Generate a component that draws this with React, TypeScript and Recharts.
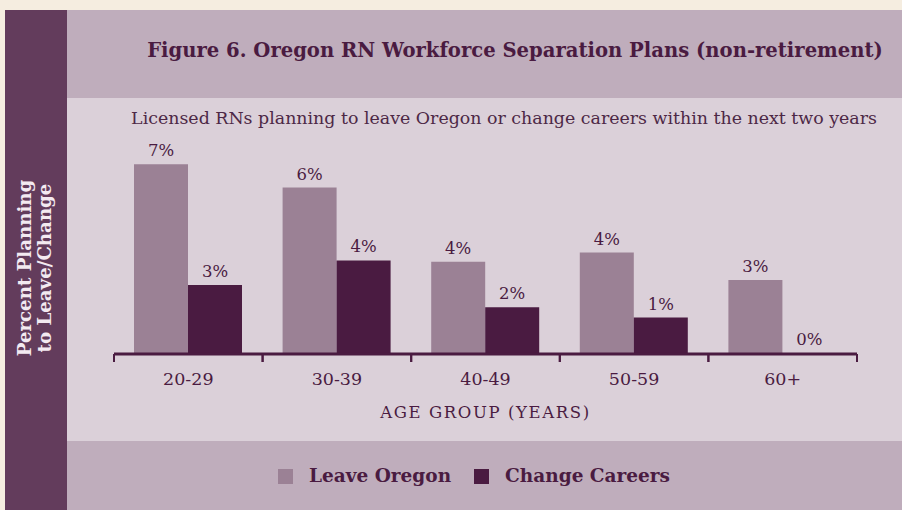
import React from 'react';
import { BarChart, Bar, XAxis, YAxis, LabelList } from 'recharts';

const categories = ['20-29', '30-39', '40-49', '50-59', '60+'];
const leaveOregon = [7.3, 6.4, 3.55, 3.9, 2.85];
const changeCareers = [2.65, 3.6, 1.8, 1.4, 0];
const seriesNames = ['Leave Oregon', 'Change Careers'];
const seriesColors = ['#9b8195', '#4a1b41'];

const data = categories.map((c, i) => ({
  group: c,
  leave: leaveOregon[i],
  change: changeCareers[i],
}));

const FONT = '"DejaVu Serif", serif';
const DARK = '#4a1b41';
const TICK_MARGIN = 19;
const TICK_LEN = 8;

const fmt = (v: number) => `${Math.round(v)}%`;

const CategoryTick = (props: any) => {
  const { x, y, payload, width, visibleTicksCount } = props;
  const half = payload && payload.offset ? payload.offset : width / visibleTicksCount / 2;
  const axisY = y - TICK_MARGIN;
  return (
    <g>
      <line x1={x - half} x2={x - half} y1={axisY} y2={axisY + TICK_LEN} stroke={DARK} strokeWidth={2} />
      <line x1={x + half} x2={x + half} y1={axisY} y2={axisY + TICK_LEN} stroke={DARK} strokeWidth={2} />
      <text x={x} y={y} dy="0.71em" textAnchor="middle" fill={DARK} fontSize={17.5} fontFamily={FONT}>
        {payload.value}
      </text>
    </g>
  );
};

export default function App() {
  return (
    <div
      style={{
        position: 'absolute',
        left: 0,
        top: 0,
        width: 902,
        height: 510,
        background: '#f5ede0',
        fontFamily: FONT,
        overflow: 'hidden',
      }}
    >
      <div style={{ position: 'absolute', left: 5, top: 10, width: 62, height: 500, background: '#633c5c' }} />
      <div style={{ position: 'absolute', left: 67, top: 10, width: 835, height: 88, background: '#bfadbc' }} />
      <div style={{ position: 'absolute', left: 67, top: 98, width: 835, height: 343, background: '#dbd0d9' }} />
      <div style={{ position: 'absolute', left: 67, top: 441, width: 835, height: 69, background: '#bfadbc' }} />

      <svg width={902} height={510} style={{ position: 'absolute', left: 0, top: 0 }}>
        <text x={515} y={57} textAnchor="middle" fontFamily={FONT} fontWeight="bold" fontSize={19.6} fill={DARK}>
          Figure 6. Oregon RN Workforce Separation Plans (non-retirement)
        </text>
        <text x={504} y={124} textAnchor="middle" fontFamily={FONT} fontSize={17.4} fill="#4d2846">
          Licensed RNs planning to leave Oregon or change careers within the next two years
        </text>
        <g transform="translate(36,268) rotate(-90)">
          <text x={0} y={-5} textAnchor="middle" fontFamily={FONT} fontWeight="bold" fontSize={18.2} fill="#f3eaf1">
            Percent Planning
          </text>
          <text x={0} y={15} textAnchor="middle" fontFamily={FONT} fontWeight="bold" fontSize={18.2} fill="#f3eaf1">
            to Leave/Change
          </text>
        </g>
      </svg>

      <div style={{ position: 'absolute', left: 0, top: 0 }}>
        <BarChart
          width={902}
          height={510}
          data={data}
          margin={{ top: 146, right: 45, bottom: 0, left: 114 }}
          barGap={0}
          barSize={54}
        >
          <YAxis hide domain={[0, 8]} />
          <XAxis
            dataKey="group"
            height={156}
            interval={0}
            axisLine={{ stroke: DARK, strokeWidth: 3 }}
            tickLine={false}
            tickSize={0}
            tickMargin={TICK_MARGIN}
            tick={CategoryTick}
            label={{
              value: 'AGE GROUP (YEARS)',
              position: 'insideTop',
              offset: 52,
              fill: DARK,
              fontSize: 16.5,
              fontFamily: FONT,
              letterSpacing: 1.6,
            }}
          />
          <Bar dataKey="leave" name={seriesNames[0]} fill={seriesColors[0]} isAnimationActive={false}>
            <LabelList
              dataKey="leave"
              position="top"
              offset={8}
              formatter={fmt}
              style={{ fill: DARK, fontSize: 16.5, fontFamily: FONT }}
            />
          </Bar>
          <Bar
            dataKey="change"
            name={seriesNames[1]}
            fill={seriesColors[1]}
            minPointSize={1}
            isAnimationActive={false}
          >
            <LabelList
              dataKey="change"
              position="top"
              offset={8}
              formatter={fmt}
              style={{ fill: DARK, fontSize: 16.5, fontFamily: FONT }}
            />
          </Bar>
        </BarChart>
      </div>

      <div
        style={{
          position: 'absolute',
          left: 278,
          top: 464,
          display: 'flex',
          alignItems: 'center',
          fontFamily: FONT,
          fontWeight: 'bold',
          fontSize: 18.5,
          lineHeight: '24px',
          color: DARK,
          whiteSpace: 'nowrap',
        }}
      >
        {seriesNames.map((n, i) => (
          <div key={n} style={{ display: 'flex', alignItems: 'center', marginRight: i === 0 ? 23 : 0 }}>
            <span style={{ display: 'inline-block', width: 15, height: 15, background: seriesColors[i], marginRight: 16 }} />
            <span>{n}</span>
          </div>
        ))}
      </div>
    </div>
  );
}
